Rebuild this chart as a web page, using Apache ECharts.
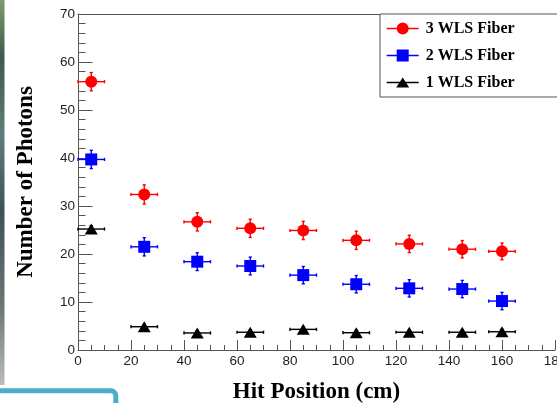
<!DOCTYPE html>
<html>
<head>
<meta charset="utf-8">
<script src="https://cdn.jsdelivr.net/npm/echarts@6/dist/echarts.min.js"></script>
<style>
html,body{margin:0;padding:0;background:#fff;}
#c{width:557px;height:403px;}
</style>
</head>
<body>
<div id="c"></div>
<script>
// Data
const hitPos = [5, 25, 45, 65, 85, 105, 125, 145, 160];
const hitErr = [5, 5, 5, 5, 5, 5, 5, 5, 5];
const fiber3 = [55.9, 32.4, 26.7, 25.35, 24.9, 22.85, 22.1, 21.0, 20.55];
const fiber3Err = [1.9, 2.0, 1.9, 1.9, 1.9, 1.9, 1.8, 1.8, 1.75];
const fiber2 = [39.7, 21.5, 18.4, 17.5, 15.6, 13.7, 12.85, 12.7, 10.2];
const fiber2Err = [1.9, 1.9, 1.85, 1.85, 1.8, 1.8, 1.8, 1.8, 1.8];
const fiber1 = [25.2, 4.85, 3.55, 3.7, 4.3, 3.6, 3.7, 3.7, 3.8];
const fiber1Err = [0.7, 0.5, 0.5, 0.5, 0.5, 0.5, 0.5, 0.5, 0.5];
const seriesNames = ['3 WLS Fiber', '2 WLS Fiber', '1 WLS Fiber'];
const yTicks = [0, 10, 20, 30, 40, 50, 60, 70];
const xTicks = [0, 20, 40, 60, 80, 100, 120, 140, 160, 180];

const chart = echarts.init(document.getElementById('c'), null, {renderer: 'canvas'});

function errData(ys, yErr) {
  return hitPos.map((x, i) => [x, ys[i], hitErr[i], yErr[i]]);
}
function ptData(ys) {
  return hitPos.map((x, i) => [x, ys[i]]);
}
function errSeries(name, ys, yErr, color) {
  return {
    type: 'custom',
    name: name + ' err',
    data: errData(ys, yErr),
    z: 2,
    silent: true,
    renderItem: function (params, api) {
      const x = api.value(0), y = api.value(1), ex = api.value(2), ey = api.value(3);
      const pL = api.coord([x - ex, y]), pR = api.coord([x + ex, y]);
      const pT = api.coord([x, y + ey]), pB = api.coord([x, y - ey]);
      const cap = 1.6;
      const st = {stroke: color, lineWidth: 1.4};
      const ln = (x1, y1, x2, y2) => ({type: 'line', shape: {x1, y1, x2, y2}, style: st});
      return {
        type: 'group',
        children: [
          ln(pL[0], pL[1], pR[0], pR[1]),
          ln(pL[0], pL[1] - cap, pL[0], pL[1] + cap),
          ln(pR[0], pR[1] - cap, pR[0], pR[1] + cap),
          ln(pT[0], pT[1], pB[0], pB[1]),
          ln(pT[0] - cap, pT[1], pT[0] + cap, pT[1]),
          ln(pB[0] - cap, pB[1], pB[0] + cap, pB[1])
        ]
      };
    }
  };
}
function ptSeries(name, ys, color, symbol, size) {
  return {
    type: 'scatter',
    name: name,
    data: ptData(ys),
    symbol: symbol,
    symbolSize: size,
    itemStyle: {color: color, opacity: 1},
    z: 3,
    emphasis: {disabled: true}
  };
}

const lineBar = 'M0,5.3 L32,5.3 L32,6.7 L0,6.7 Z ';
const bboxPad = 'M0,0 L32,0 L32,0.01 L0,0.01 Z M0,11.99 L32,11.99 L32,12 L0,12 Z ';
const iconCircle = 'path://' + lineBar + 'M10,6 A6,6 0 1 1 22,6 A6,6 0 1 1 10,6 Z';
const iconRect = 'path://' + lineBar + 'M10,0 L22,0 L22,12 L10,12 Z';
const iconTri = 'path://' + bboxPad + lineBar + 'M16,1 L22.5,11 L9.5,11 Z';

const axisGray = '#555';
const labelFont = {fontFamily: '"Liberation Sans", Arial, sans-serif', fontSize: 13.5, color: '#222'};
const titleFont = {fontFamily: '"Liberation Serif", "Times New Roman", serif', fontWeight: 'bold', fontSize: 23, color: '#000'};

const option = {
  backgroundColor: '#fff',
  animation: false,
  grid: {left: 78, top: 14, width: 477, height: 336, containLabel: false, outerBoundsMode: 'none'},
  legend: {
    orient: 'vertical',
    left: 380,
    top: 14,
    padding: [6.5, 50, 6.5, 6.7],
    itemWidth: 32,
    itemHeight: 12,
    itemGap: 11,
    borderColor: axisGray,
    borderWidth: 1,
    backgroundColor: '#fff',
    selectedMode: false,
    z: 10,
    textStyle: {fontFamily: '"Liberation Serif", "Times New Roman", serif', fontWeight: 'bold', fontSize: 16, color: '#000', padding: [0, 0, 0, 2]},
    data: [
      {name: seriesNames[0], icon: iconCircle},
      {name: seriesNames[1], icon: iconRect},
      {name: seriesNames[2], icon: iconTri}
    ]
  },
  xAxis: [{
    type: 'value',
    min: xTicks[0], max: xTicks[xTicks.length - 1], interval: 20,
    position: 'bottom',
    name: 'Hit Position (cm)',
    nameLocation: 'middle',
    nameGap: 31,
    nameTextStyle: titleFont,
    axisLine: {show: true, onZero: false, lineStyle: {color: axisGray, width: 1}},
    axisTick: {show: true, inside: true, length: 10, lineStyle: {color: axisGray}},
    minorTick: {show: true, splitNumber: 4, length: 5, lineStyle: {color: axisGray}},
    axisLabel: Object.assign({margin: 4}, labelFont),
    splitLine: {show: false}
  }, {
    type: 'value',
    min: xTicks[0], max: xTicks[xTicks.length - 1], interval: 20,
    position: 'top',
    axisLine: {show: true, onZero: false, lineStyle: {color: axisGray, width: 1}},
    axisTick: {show: false},
    axisLabel: {show: false},
    splitLine: {show: false}
  }],
  yAxis: {
    type: 'value',
    min: yTicks[0], max: yTicks[yTicks.length - 1], interval: 10,
    name: 'Number of Photons',
    nameLocation: 'middle',
    nameGap: 40,
    nameTextStyle: titleFont,
    axisLine: {show: true, onZero: false, lineStyle: {color: axisGray, width: 1}},
    axisTick: {show: true, inside: true, length: 14.5, lineStyle: {color: axisGray}},
    minorTick: {show: true, splitNumber: 5, length: 7.5, lineStyle: {color: axisGray}},
    axisLabel: Object.assign({margin: 3}, labelFont),
    splitLine: {show: false}
  },
  graphic: [
    {
      type: 'rect', left: 0, top: 0, z: 100, silent: true,
      shape: {x: 0, y: 0, width: 4.5, height: 385},
      style: {
        fill: new echarts.graphic.LinearGradient(0, 0, 0, 1, [
          {offset: 0, color: '#7f9a6c'},
          {offset: 0.15, color: '#3e5a4e'},
          {offset: 0.35, color: '#5e7f7c'},
          {offset: 0.55, color: '#3d5257'},
          {offset: 0.8, color: '#6f7677'},
          {offset: 1, color: '#b8bcbd'}
        ])
      }
    },
    {
      type: 'rect', z: 100, silent: true,
      shape: {x: -10, y: 390.8, width: 125.8, height: 40, r: 5},
      style: {fill: '#fff', stroke: '#4aaec8', lineWidth: 5}
    }
  ],
  series: [
    errSeries(seriesNames[0], fiber3, fiber3Err, '#ff0000'),
    errSeries(seriesNames[1], fiber2, fiber2Err, '#0000ff'),
    errSeries(seriesNames[2], fiber1, fiber1Err, '#000000'),
    ptSeries(seriesNames[0], fiber3, '#ff0000', 'circle', 12),
    ptSeries(seriesNames[1], fiber2, '#0000ff', 'rect', 12),
    ptSeries(seriesNames[2], fiber1, '#000000', 'triangle', [13, 11])
  ]
};
chart.setOption(option);
</script>
</body>
</html>
